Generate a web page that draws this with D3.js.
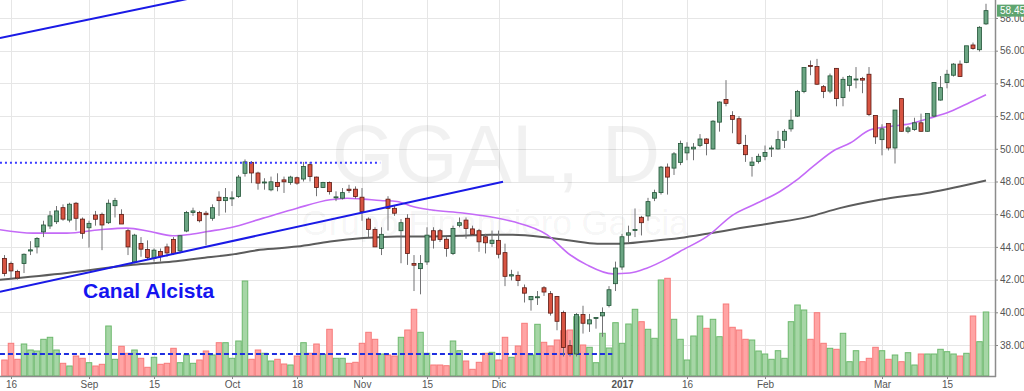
<!DOCTYPE html>
<html><head><meta charset="utf-8">
<script src="https://cdn.jsdelivr.net/npm/d3@7"></script>
<style>body{margin:0;background:#fff;overflow:hidden}svg{display:block}</style>
</head><body><svg id="c" width="1024" height="391"></svg>
<script>
// ---- DATA (bar index 0..151, daily) ----
const opens = [43.29,42.98,42.5,42.98,43.75,44.0,44.92,45.28,45.54,46.4, 45.64,46.67,45.7,45.17,45.95,45.99,45.48,46.52,45.99,44.99, 43.08,44.21,43.84,43.29,43.72,44.0,44.46,43.76,44.97,46.1, 46.1,46.06,45.75,47.04,46.83,46.98,47.08,48.5,49.17,48.52, 47.92,47.49,47.94,48.1,47.94,48.23,48.15,49.03,48.27,47.63, 47.94,47.0,46.98,47.53,47.53,47.04,45.7,45.07,43.9,46.92, 46.36,44.99,45.75,42.98,42.67,43.08,44.99,44.99,44.47,43.6, 45.32,45.64,45.1,44.99,44.62,44.21,44.4,43.65,42.22,42.26, 41.5,40.77,40.9,41.5,41.14,40.97,39.99,37.96,37.45,39.86, 39.29,39.64,39.78,40.42,41.75,42.77,44.72,45.0,45.81,45.89, 46.98,47.32,48.88,48.82,49.17,49.75,49.99,50.21,50.6,49.99, 51.63,53.02,52.04,51.84,50.21,48.98,49.23,49.54,50.0,49.99, 50.52,51.22,52.0,53.5,55.1,55.03,53.8,53.53,54.92,53.13, 53.88,54.22,54.3,54.56,52.04,50.56,51.55,50.05,53.07,51.07, 51.18,51.59,51.07,52.0,52.98,54.05,54.5,55.18,55.28,56.35, 56.06,57.64];
const highs = [43.5,43.1,42.6,43.6,44.35,44.6,45.6,46.2,46.5,46.6, 46.7,46.75,45.8,45.6,46.2,46.1,46.9,47.0,46.3,45.1, 44.8,44.6,44.4,43.9,43.9,44.2,44.6,44.72,46.2,46.4, 46.2,46.2,46.6,47.4,47.6,47.4,48.4,49.35,49.25,48.6, 48.2,48.3,48.5,48.3,48.35,48.3,49.2,49.2,48.3,47.98, 48.0,47.4,47.6,47.8,47.7,47.6,45.8,45.2,45.2,47.1, 46.5,45.7,46.0,43.5,43.5,45.2,45.2,45.1,44.6,45.3, 45.8,45.8,45.3,45.1,44.8,45.0,45.0,44.2,42.6,42.5, 41.7,41.0,41.3,41.6,41.3,41.0,40.1,38.3,39.95,40.4, 39.9,39.7,40.3,41.6,43.1,44.8,45.3,46.35,45.9,47.0, 47.5,48.95,49.1,49.8,50.5,50.4,50.35,50.9,50.65,51.75, 52.9,54.2,52.3,52.0,50.85,49.5,49.7,50.2,50.2,51.1, 51.2,52.4,53.6,55.0,55.4,55.5,53.9,54.6,54.94,54.4, 54.5,55.0,54.4,55.0,52.0,51.5,51.5,52.35,53.05,51.4, 51.9,52.15,52.15,54.05,54.45,54.83,55.24,55.4,56.26,56.5, 57.5,58.87];
const lows = [42.2,42.06,42.0,42.4,43.5,43.6,44.6,45.1,45.4,45.6, 45.5,45.0,44.5,43.96,45.3,43.8,45.4,45.8,45.4,43.5, 43.0,43.4,43.2,43.1,43.1,43.4,43.5,43.6,44.9,45.9, 45.5,44.1,45.6,45.9,46.1,46.5,47.0,48.3,47.9,47.5, 47.5,47.4,47.4,47.3,47.8,47.8,48.0,48.0,47.1,47.6, 47.2,46.8,46.9,47.3,46.95,45.6,44.6,44.0,43.5,45.0, 45.9,43.0,42.9,41.3,41.1,42.9,43.9,44.3,43.4,43.5, 45.2,44.5,44.7,43.7,43.6,44.0,43.3,41.6,41.95,41.6, 40.6,40.1,40.45,41.0,39.8,38.9,37.3,37.3,37.3,38.7, 38.8,39.0,38.5,40.3,41.3,42.6,44.3,44.6,44.7,45.6, 46.8,47.2,47.2,48.4,49.0,49.3,49.3,50.1,49.6,49.95, 51.05,52.6,50.95,50.25,49.2,48.3,49.1,49.3,49.5,49.95, 50.05,51.05,51.95,53.4,54.5,53.9,53.1,53.4,52.6,52.6, 53.5,53.7,53.4,52.0,50.3,49.6,49.9,49.1,51.05,50.95, 51.1,51.05,51.05,51.95,52.95,53.7,54.42,54.4,55.24,56.06, 55.95,57.58];
const closes = [42.37,42.53,42.1,43.55,43.82,44.52,45.34,45.9,46.2,45.7, 46.61,45.75,44.83,45.44,45.69,45.34,46.67,46.83,45.4,44.0, 44.72,43.86,43.35,43.8,43.43,43.63,43.6,44.68,46.1,46.2, 45.6,45.97,46.4,46.83,47.02,47.0,48.27,49.2,48.52,47.9, 47.97,47.98,47.7,47.98,48.27,47.9,48.92,48.31,47.63,47.94, 47.38,47.06,47.32,47.45,47.08,46.16,45.07,44.0,44.77,46.36, 46.06,45.48,43.6,42.88,42.98,44.72,44.41,44.46,43.9,45.13, 45.48,45.13,44.77,44.31,44.25,44.41,43.55,42.2,42.3,41.95, 41.17,40.97,40.95,41.24,39.95,39.45,37.85,37.48,39.86,39.33, 39.54,39.68,39.99,41.38,42.71,44.62,44.86,45.06,45.48,46.77, 47.32,48.88,48.27,49.69,50.32,50.1,50.1,50.6,50.32,51.69, 52.86,52.78,51.8,50.32,49.64,49.19,49.54,49.78,50.05,50.56, 51.07,51.75,53.5,54.97,55.05,53.95,53.5,54.46,53.07,54.25, 54.42,54.27,54.2,52.1,50.73,51.22,50.05,52.37,51.07,51.28, 51.59,51.07,52.16,54.05,53.74,54.56,55.18,54.42,56.3,56.14, 57.43,58.45];
const volumes = [160,327,167,320,260,250,367,387,260,127, 100,200,177,133,100,117,500,167,297,227, 260,177,87,187,117,127,277,133,210,127, 160,250,210,333,333,177,350,950,167,260, 227,150,167,120,110,200,333,227,320,217, 467,177,177,127,137,327,437,367,220,210, 200,387,460,667,437,227,110,110,103,350, 253,150,67,137,227,237,160,387,187,300, 527,210,517,337,300,360,453,460,593,310, 287,133,427,280,533,327,520,667,543,467, 377,960,977,567,367,160,400,600,477,567, 393,720,487,460,367,360,250,220,167,253, 177,543,710,660,367,633,327,277,267,427, 143,253,143,177,287,253,167,210,143,233, 110,220,220,220,267,243,220,200,227,600, 343,640];
// moving averages: [bar index, value]
const maFastIdx = [-0.7,4.4,9.6,14.7,18.8,22.4,25.9,28.1,31.2,34.7,39.8,45.0,50.1,52.7,55.2,57.8,60.4,62.8,65.5,70.5,74.7,78.2,83.5,87.0,89.6,93.6,96.2,98.8,101.9,103.9,108.1,112.1,115.8,119.3,121.9,124.4,127.8,130.1,133.2,136.2,139.3,142.4,145.5,148.5,151];
const maFastVal = [45.05,44.84,44.84,45.05,45.15,44.94,44.68,44.74,44.94,45.17,45.76,46.37,46.88,46.98,46.92,46.84,46.78,46.47,46.27,46.07,45.84,45.55,44.74,43.52,42.9,42.35,42.4,42.7,43.27,43.72,44.64,45.96,46.68,47.39,48.1,48.92,49.94,50.35,51.16,51.36,51.53,51.88,52.28,52.83,53.3];
const maSlowIdx = [-0.7,9.6,19.8,25.9,30.1,34.7,39.3,45.0,50.1,55.2,60.4,65.5,70.5,74.7,78.2,83.5,87.0,91.2,94.7,98.8,103.9,108.1,113.2,118.2,123.5,128.5,134.7,142.4,151];
const maSlowVal = [41.99,42.4,42.91,43.11,43.31,43.52,43.82,44.02,44.33,44.54,44.64,44.64,44.68,44.74,44.74,44.57,44.39,44.19,44.19,44.33,44.54,44.8,45.15,45.46,45.82,46.37,46.88,47.33,48.06];
// axis ticks
const dateTickIdx = [1,13,23,35,45,55,65,76,95,105,117,135,145];
const dateTickLabels = ["16","Sep","15","Oct","18","Nov","15","Dic","2017","16","Feb","Mar","15"];
const priceTicks = [38,40,42,44,46,48,50,52,54,56,58];
// drawings: [index1, price1, index2, price2]
const channelLines = [[-0.7,41.25,76.7,47.98],[-0.7,56.78,28.2,59.17]];
const resistance = [-0.7,57.8,49.14];
const volAvg = [-0.7,93.5,220];
const lastPrice = 58.45;

// ---- CHART ----
const W=1024,H=391, plotR=995, plotB=376;
const svg=d3.select("#c");
const x=d3.scaleLinear().domain([0,151]).range([4.5,986]);
const y=d3.scaleLinear().domain([38,58]).range([345,18]);
const yv=d3.scaleLinear().domain([0,1000]).range([plotB,plotB-100]);

svg.append("defs").append("clipPath").attr("id","pc").append("rect")
  .attr("x",0).attr("y",0).attr("width",plotR).attr("height",plotB);

// grid
const g=svg.append("g").attr("clip-path","url(#pc)");
g.selectAll(".hg").data(priceTicks).join("line").attr("x1",0).attr("x2",plotR)
  .attr("y1",d=>Math.round(y(d))+0.5).attr("y2",d=>Math.round(y(d))+0.5).attr("stroke","#e6e6e6");
g.selectAll(".vg").data(dateTickIdx).join("line").attr("y1",0).attr("y2",plotB)
  .attr("x1",d=>Math.round(x(d))+0.5).attr("x2",d=>Math.round(x(d))+0.5).attr("stroke","#e6e6e6");

// watermark
g.append("text").attr("x",496).attr("y",182).attr("text-anchor","middle")
  .attr("font-family","Liberation Sans, Arial, sans-serif").attr("font-size",81)
  .attr("fill","#000").attr("fill-opacity",0.055).text("GGAL, D");
g.append("text").attr("x",495).attr("y",235).attr("text-anchor","middle")
  .attr("font-family","Liberation Sans, Arial, sans-serif").attr("font-size",35)
  .attr("fill","#000").attr("fill-opacity",0.055).text("Grupo Financiero Galicia");

const idx=d3.range(opens.length);
const up=i=>closes[i]>=opens[i];

// volume
g.selectAll(".vol").data(idx).join("rect")
  .attr("x",i=>x(i)-2.75).attr("width",5.5)
  .attr("y",i=>yv(volumes[i])).attr("height",i=>plotB-yv(volumes[i]))
  .attr("fill",i=>up(i)?"#a6d6a6":"#ffa4a4")
  .attr("stroke",i=>up(i)?"#6cb86c":"#f77a7a").attr("stroke-width",1);

g.append("line").attr("x1",x(volAvg[0])).attr("x2",x(volAvg[1]))
  .attr("y1",yv(volAvg[2])).attr("y2",yv(volAvg[2]))
  .attr("stroke","#1f2fe0").attr("stroke-width",2).attr("stroke-dasharray","5,3");

// moving averages
const line=(ix,vals)=>d3.line().x((d,k)=>x(ix[k])).y(d=>y(d)).curve(d3.curveMonotoneX)(vals);
g.append("path").attr("d",line(maSlowIdx,maSlowVal)).attr("fill","none").attr("stroke","#5c5c5c").attr("stroke-width",2);
g.append("path").attr("d",line(maFastIdx,maFastVal)).attr("fill","none").attr("stroke","#c46af7").attr("stroke-width",1.6);

// candles
g.selectAll(".wick").data(idx).join("line")
  .attr("x1",i=>x(i)).attr("x2",i=>x(i)).attr("y1",i=>y(highs[i])).attr("y2",i=>y(lows[i]))
  .attr("stroke","#737375").attr("stroke-width",1);
g.selectAll(".body").data(idx).join("rect")
  .attr("x",i=>x(i)-2).attr("width",4)
  .attr("y",i=>y(Math.max(opens[i],closes[i])))
  .attr("height",i=>Math.max(1,Math.abs(y(opens[i])-y(closes[i]))))
  .attr("fill",i=>up(i)?"#6ba583":"#d75442")
  .attr("stroke",i=>up(i)?"#225437":"#5b1a13").attr("stroke-width",0.8);

// drawings
g.selectAll(".ch").data(channelLines).join("line")
  .attr("x1",d=>x(d[0])).attr("y1",d=>y(d[1])).attr("x2",d=>x(d[2])).attr("y2",d=>y(d[3]))
  .attr("stroke","#1a1ae6").attr("stroke-width",2);
g.append("line").attr("x1",x(resistance[0])).attr("x2",x(resistance[1]))
  .attr("y1",y(resistance[2])).attr("y2",y(resistance[2]))
  .attr("stroke","#3a3aff").attr("stroke-width",2).attr("stroke-dasharray","2,3");
g.append("text").attr("x",83).attr("y",298)
  .attr("font-family","Liberation Sans, Arial, sans-serif").attr("font-weight","bold").attr("font-size",21)
  .attr("fill","#1414f0").text("Canal Alcista");

// axes
const ya=svg.append("g").attr("transform",`translate(${plotR},0)`)
  .call(d3.axisRight(y).tickValues(priceTicks).tickFormat(d3.format(".2f")).tickSize(3).tickPadding(2));
ya.select(".domain").remove();
ya.selectAll("text").attr("font-family","Liberation Sans, Arial, sans-serif").attr("font-size",10).attr("fill","#555");
ya.selectAll("line").attr("stroke","#888");
const xa=svg.append("g").attr("transform",`translate(0,${plotB})`)
  .call(d3.axisBottom(x).tickValues(dateTickIdx).tickFormat((d,k)=>dateTickLabels[k]).tickSize(3).tickPadding(2));
xa.select(".domain").remove();
xa.selectAll("text").attr("font-family","Liberation Sans, Arial, sans-serif").attr("font-size",10).attr("fill","#555")
  .attr("font-weight",(d,k)=>dateTickLabels[k]==="2017"?"bold":"normal");
xa.selectAll("line").attr("stroke","#888");
svg.append("line").attr("x1",plotR+0.5).attr("x2",plotR+0.5).attr("y1",0).attr("y2",plotB+1).attr("stroke","#8c8c8c").attr("stroke-width",1.5);
svg.append("line").attr("x1",0).attr("x2",plotR+1).attr("y1",plotB+0.5).attr("y2",plotB+0.5).attr("stroke","#8c8c8c").attr("stroke-width",1.5);

// last price label (covers the top of the 58.00 tick label, as in the reference)
const lp=svg.append("g");
lp.append("rect").attr("x",plotR+2).attr("y",y(lastPrice)-6).attr("width",W-plotR-2).attr("height",12).attr("fill","#5ea56f");
lp.append("text").attr("x",plotR+5).attr("y",y(lastPrice)+3.5)
  .attr("font-family","Liberation Sans, Arial, sans-serif").attr("font-size",10).attr("fill","#fff").text(d3.format(".2f")(lastPrice));
</script></body></html>
